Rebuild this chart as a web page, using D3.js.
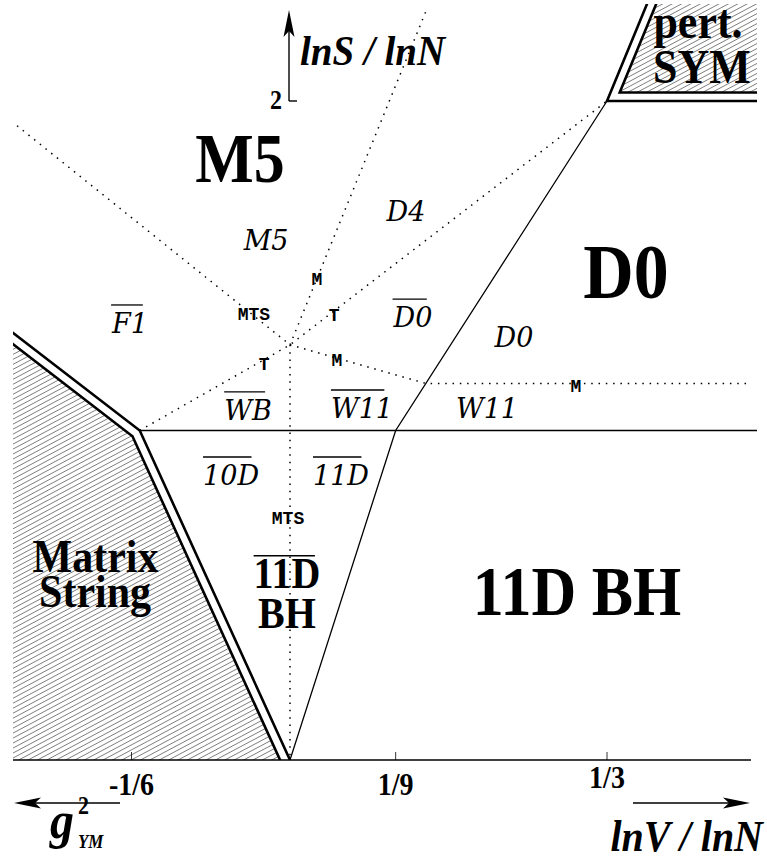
<!DOCTYPE html>
<html><head><meta charset="utf-8">
<script src="https://cdn.jsdelivr.net/npm/d3@7"></script>
<style>body{margin:0;background:#fff} svg{display:block}</style>
</head><body>
<script>
// ---------------- data ----------------
const xTickValues = [-1/6, 1/9, 1/3];
const xTickLabels = ["-1/6", "1/9", "1/3"];
const yTickValues = [2];
const yTickLabels = ["2"];

// solid phase boundaries  (lnV/lnN , lnS/lnN)
const phaseBoundary = [[0, 0], [1/9, 1], [1/3, 2]];
const sEqualsN = [[-0.158, 1], [0.492, 1]];
// double-line edges of the hatched regions (physical side)
const matrixStringEdge = [[-0.30, 1.316], [-0.158, 1], [0, 0]];
const symEdge = [[1/3 + 0.35/7, 2.35], [1/3, 2], [0.52, 2]];
// dotted transition lines
const centre = [0, 1.26];
const dottedLines = [
  [[-0.287, 1.925], centre],
  [centre, [0.144, 2.28]],
  [[-0.158, 1], centre, [1/3, 2]],
  [centre, [1/7, 8/7], [0.4855, 8/7]],
  [centre, [0, 0]]
];

// region labels
const boldLabels = ["M5", "D0", "11D BH", "pert.", "SYM", "Matrix", "String", "11D", "BH"];
const boldPos = [[-0.0526, 1.754], [0.3533, 1.402], [0.3018, 0.440], [0.429, 2.19], [0.4332, 2.055],
                 [-0.2045, 0.5706], [-0.2050, 0.4643], [-0.0032, 0.522], [-0.0032, 0.4006]];
const boldSize = [62, 70, 62, 44, 44, 42, 42, 40, 40];
const boldBar = [false, false, false, false, false, false, false, true, false];

const italicLabels = ["M5", "D4", "F1", "D0", "D0", "W11", "WB", "W11", "10D", "11D"];
const italicPos = [[-0.0252, 1.548], [0.122, 1.636], [-0.1682, 1.296], [0.1293, 1.314], [0.2355, 1.253],
                   [0.2071, 1.038], [-0.0442, 1.032], [0.0757, 1.038], [-0.062, 0.8346], [0.0536, 0.8346]];
const italicBar = [false, false, true, true, false, false, true, true, true, true];

const monoLabels = ["MTS", "T", "M", "T", "M", "M", "MTS"];
const monoPos = [[-0.0379, 1.335], [0.0463, 1.332], [0.0284, 1.4416], [-0.0273, 1.1836],
                 [0.0494, 1.1958], [0.3007, 1.1168], [-0.0021, 0.7162]];

// ---------------- drawing ----------------
const W = 767, H = 859;
const svg = d3.select("body").append("svg").attr("width", W).attr("height", H);
const x = d3.scaleLinear().domain([0, 1/3]).range([290, 607]);
const y = d3.scaleLinear().domain([0, 2]).range([760, 101]);
const plot = {left: 13, right: 757, top: 4, bottom: 760};

const defs = svg.append("defs");
defs.append("clipPath").attr("id", "plotclip").append("rect")
  .attr("x", plot.left).attr("y", plot.top)
  .attr("width", plot.right - plot.left).attr("height", plot.bottom - plot.top);
const pat = defs.append("pattern").attr("id", "hatch")
  .attr("patternUnits", "userSpaceOnUse").attr("width", 10).attr("height", 4.4)
  .attr("patternTransform", "rotate(-28)");
pat.append("line").attr("x1", -1).attr("x2", 11).attr("y1", 2.2).attr("y2", 2.2)
  .attr("stroke", "#666").attr("stroke-width", 0.8);

const g = svg.append("g").attr("clip-path", "url(#plotclip)");
const px = d => [x(d[0]), y(d[1])];
const line = d3.line();

function offsetPoly(pts, dist) {
  const n = [];
  for (let i = 0; i < pts.length - 1; i++) {
    const dx = pts[i+1][0] - pts[i][0], dy = pts[i+1][1] - pts[i][1];
    const L = Math.hypot(dx, dy);
    n.push([-dy / L, dx / L]);
  }
  return pts.map((p, i) => {
    if (i === 0) return [p[0] + dist * n[0][0], p[1] + dist * n[0][1]];
    if (i === pts.length - 1) { const m = n[n.length - 1]; return [p[0] + dist * m[0], p[1] + dist * m[1]]; }
    const a = n[i-1], b = n[i];
    const k = dist / (1 + a[0]*b[0] + a[1]*b[1]);
    return [p[0] + k * (a[0] + b[0]), p[1] + k * (a[1] + b[1])];
  });
}

// Matrix String hatched region
const msIn = matrixStringEdge.map(px);
const msOut = offsetPoly(msIn, 9);
g.append("path").attr("d", line([...msOut, [msOut[2][0] - 400, msOut[2][1]]]) + "Z")
  .attr("fill", "url(#hatch)");
// SYM hatched region
const syIn = symEdge.map(px);
const syOut = offsetPoly(syIn, -8.5);
g.append("path").attr("d", line([...syOut, [syOut[2][0], syOut[0][1]]]) + "Z")
  .attr("fill", "url(#hatch)");

// dotted lines
dottedLines.forEach(l => {
  g.append("path").attr("d", line(l.map(px))).attr("fill", "none")
    .attr("stroke", "#000").attr("stroke-width", 1.5).attr("stroke-dasharray", "1.5 5.8");
});
// solid lines
[phaseBoundary, sEqualsN].forEach(l => {
  g.append("path").attr("d", line(l.map(px))).attr("fill", "none")
    .attr("stroke", "#000").attr("stroke-width", 1.3);
});
// double lines
[msIn, msOut, syIn, syOut].forEach(l => {
  g.append("path").attr("d", line(l)).attr("fill", "none")
    .attr("stroke", "#000").attr("stroke-width", 2.6).attr("stroke-linejoin", "miter");
});

// axes
svg.append("line").attr("x1", plot.left).attr("x2", 751).attr("y1", y(0)).attr("y2", y(0))
  .attr("stroke", "#000").attr("stroke-width", 1.6);
xTickValues.forEach((v, i) => {
  svg.append("line").attr("x1", x(v)).attr("x2", x(v)).attr("y1", y(0)).attr("y2", y(0) - 8)
    .attr("stroke", "#000").attr("stroke-width", 0.8);
  svg.append("text").attr("transform", `translate(${x(v)},${i === 2 ? 788 : 795}) scale(1,1.15)`)
    .attr("text-anchor", "middle").attr("font-family", "Liberation Serif").attr("font-weight", "bold")
    .attr("font-size", 28).text(xTickLabels[i]);
});
// y axis arrow
svg.append("line").attr("x1", x(0) - 1).attr("x2", x(0) - 1).attr("y1", y(2)).attr("y2", 30)
  .attr("stroke", "#000").attr("stroke-width", 1.4);
yTickValues.forEach((v, i) => {
  svg.append("line").attr("x1", x(0) - 1).attr("x2", x(0) + 7).attr("y1", y(v)).attr("y2", y(v))
    .attr("stroke", "#000").attr("stroke-width", 1.4);
  svg.append("text").attr("transform", `translate(${x(0) - 8},${y(v) + 8}) scale(1,1.15)`)
    .attr("text-anchor", "end").attr("font-family", "Liberation Serif").attr("font-weight", "bold")
    .attr("font-size", 24).text(yTickLabels[i]);
});
function arrowHead(tx, ty, ang) {
  const pts = [[0, 0], [-27, -5.5], [-21, 0], [-27, 5.5]];
  const c = Math.cos(ang), s = Math.sin(ang);
  svg.append("path").attr("d", line(pts.map(p => [tx + p[0]*c - p[1]*s, ty + p[0]*s + p[1]*c])) + "Z")
    .attr("fill", "#000");
}
arrowHead(x(0) - 1, 10, -Math.PI / 2);
// bottom arrows
svg.append("line").attr("x1", 120).attr("x2", 30).attr("y1", 803).attr("y2", 803).attr("stroke", "#000").attr("stroke-width", 1.6);
arrowHead(14, 803, Math.PI);
svg.append("line").attr("x1", 633).attr("x2", 735).attr("y1", 803).attr("y2", 803).attr("stroke", "#000").attr("stroke-width", 1.6);
arrowHead(750, 803, 0);

// axis titles
svg.append("text").attr("transform", "translate(300,65) scale(1,1.1)")
  .attr("font-family", "Liberation Serif").attr("font-weight", "bold").attr("font-style", "italic")
  .attr("font-size", 39).text("lnS / lnN");
svg.append("text").attr("transform", "translate(763,851) scale(1,1.1)").attr("text-anchor", "end")
  .attr("font-family", "Liberation Serif").attr("font-weight", "bold").attr("font-style", "italic")
  .attr("font-size", 40).text("lnV / lnN");
const gt = svg.append("g").attr("transform", "translate(50,838) scale(1,1.12)")
  .attr("font-family", "Liberation Serif").attr("font-weight", "bold").attr("font-style", "italic");
gt.append("text").attr("font-size", 48).text("g");
gt.append("text").attr("x", 28).attr("y", -21).attr("font-size", 22).attr("font-style", "normal").text("2");
gt.append("text").attr("x", 28).attr("y", 9).attr("font-size", 17).text("YM");

// region labels
boldLabels.forEach((t, i) => {
  const [cx, cy] = px(boldPos[i]);
  const tg = svg.append("g").attr("transform", `translate(${cx},${cy}) scale(1,1.12)`);
  const te = tg.append("text").attr("text-anchor", "middle").attr("font-family", "Liberation Serif")
    .attr("font-weight", "bold").attr("font-size", boldSize[i]).text(t);
  if (boldBar[i]) {
    const b = te.node().getBBox();
    tg.append("line").attr("x1", b.x).attr("x2", b.x + b.width * 0.92)
      .attr("y1", -boldSize[i] * 0.72).attr("y2", -boldSize[i] * 0.72)
      .attr("stroke", "#000").attr("stroke-width", 1.5);
  }
});
italicLabels.forEach((t, i) => {
  const [cx, cy] = px(italicPos[i]);
  const tg = svg.append("g").attr("transform", `translate(${cx},${cy})`);
  const te = tg.append("text").attr("text-anchor", "middle").attr("font-family", "DejaVu Serif")
    .attr("font-style", "italic").attr("font-size", 27).text(t);
  if (italicBar[i]) {
    const b = te.node().getBBox();
    tg.append("line").attr("x1", b.x).attr("x2", b.x + b.width * 0.86)
      .attr("y1", -28).attr("y2", -28).attr("stroke", "#000").attr("stroke-width", 1.3);
  }
});
monoLabels.forEach((t, i) => {
  const [cx, cy] = px(monoPos[i]);
  svg.append("text").attr("x", cx).attr("y", cy).attr("text-anchor", "middle")
    .attr("font-family", "Liberation Mono").attr("font-weight", "bold").attr("font-size", 18).text(t);
});
</script>
</body></html>
